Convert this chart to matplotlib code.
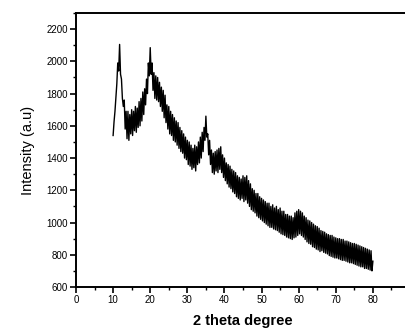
import numpy as np
import matplotlib
matplotlib.use('Agg')
import matplotlib.pyplot as plt
from matplotlib.ticker import MultipleLocator

# 2 theta from 10 to 80 in 0.25 steps, intensity
two_theta = np.arange(10.0, 80.01, 0.25)
intensity = [
    1540, 1625, 1690, 1780,   # 10
    1860, 1990, 1940, 2105,   # 11
    1920, 1890, 1770, 1720,   # 12
    1760, 1580, 1690, 1520,   # 13
    1690, 1510, 1670, 1550,   # 14
    1700, 1540, 1690, 1570,   # 15
    1720, 1560, 1710, 1590,   # 16
    1750, 1600, 1770, 1630,   # 17
    1810, 1670, 1830, 1730,   # 18
    1890, 1800, 1990, 1910,   # 19
    2085, 1920, 1990, 1820,   # 20
    1930, 1770, 1910, 1760,   # 21
    1900, 1750, 1870, 1720,   # 22
    1840, 1690, 1820, 1650,   # 23
    1790, 1620, 1730, 1580,   # 24
    1720, 1550, 1690, 1540,   # 25
    1670, 1510, 1650, 1500,   # 26
    1630, 1480, 1620, 1460,   # 27
    1590, 1440, 1570, 1430,   # 28
    1550, 1400, 1530, 1390,   # 29
    1510, 1360, 1500, 1350,   # 30
    1480, 1330, 1460, 1340,   # 31
    1480, 1320, 1470, 1360,   # 32
    1500, 1370, 1530, 1400,   # 33
    1560, 1440, 1590, 1510,   # 34
    1660, 1530, 1550, 1420,   # 35
    1510, 1360, 1450, 1310,   # 36
    1430, 1300, 1440, 1320,   # 37
    1450, 1310, 1460, 1330,   # 38
    1470, 1310, 1420, 1280,   # 39
    1400, 1260, 1370, 1240,   # 40
    1360, 1220, 1350, 1210,   # 41
    1330, 1190, 1320, 1180,   # 42
    1310, 1160, 1290, 1150,   # 43
    1280, 1140, 1270, 1150,   # 44
    1290, 1130, 1280, 1140,   # 45
    1290, 1120, 1260, 1100,   # 46
    1240, 1080, 1210, 1070,   # 47
    1200, 1060, 1180, 1040,   # 48
    1180, 1030, 1160, 1020,   # 49
    1150, 1010, 1140, 1000,   # 50
    1130, 990, 1120, 980,     # 51
    1120, 970, 1100, 970,     # 52
    1110, 960, 1090, 955,     # 53
    1100, 950, 1080, 940,     # 54
    1090, 930, 1070, 925,     # 55
    1070, 920, 1050, 910,     # 56
    1050, 905, 1040, 900,     # 57
    1040, 895, 1030, 905,     # 58
    1060, 910, 1070, 920,     # 59
    1080, 930, 1070, 920,     # 60
    1060, 910, 1040, 895,     # 61
    1030, 880, 1015, 870,     # 62
    1010, 865, 1000, 850,     # 63
    990, 845, 980, 835,       # 64
    975, 830, 965, 820,       # 65
    950, 825, 945, 815,       # 66
    940, 810, 930, 805,       # 67
    925, 795, 920, 790,       # 68
    920, 785, 910, 780,       # 69
    905, 780, 900, 775,       # 70
    900, 770, 895, 765,       # 71
    895, 765, 885, 760,       # 72
    885, 755, 880, 750,       # 73
    875, 750, 870, 745,       # 74
    870, 740, 865, 735,       # 75
    860, 730, 855, 725,       # 76
    850, 725, 845, 715,       # 77
    840, 715, 835, 710,       # 78
    830, 705, 825, 700,       # 79
    760,                      # 80
]

plt.rcParams['font.family'] = ['Liberation Sans', 'DejaVu Sans']

fig = plt.figure(figsize=(4.06, 3.28), dpi=100)
# axes runs past the right edge, like the cropped original
ax = fig.add_axes([76 / 406, 41 / 328, 334 / 406, 274 / 328])
ax.plot(two_theta, intensity, color='black', lw=1.0)

ax.set_xlim(0, 90)
ax.set_ylim(600, 2300)
ax.xaxis.set_major_locator(MultipleLocator(10))
ax.xaxis.set_minor_locator(MultipleLocator(5))
ax.yaxis.set_major_locator(MultipleLocator(200))
ax.yaxis.set_minor_locator(MultipleLocator(100))
ax.tick_params(which='major', direction='out', length=4, width=1.2, labelsize=7, pad=2)
ax.tick_params(which='minor', direction='out', length=2.5, width=1.0)
for s in ax.spines.values():
    s.set_linewidth(1.4)

ax.set_xlabel('2 theta degree', fontsize=10.5, fontweight='bold', labelpad=6)
ax.set_ylabel('Intensity (a.u)', fontsize=10.5, labelpad=8)

fig.savefig('out.png', dpi=100)
